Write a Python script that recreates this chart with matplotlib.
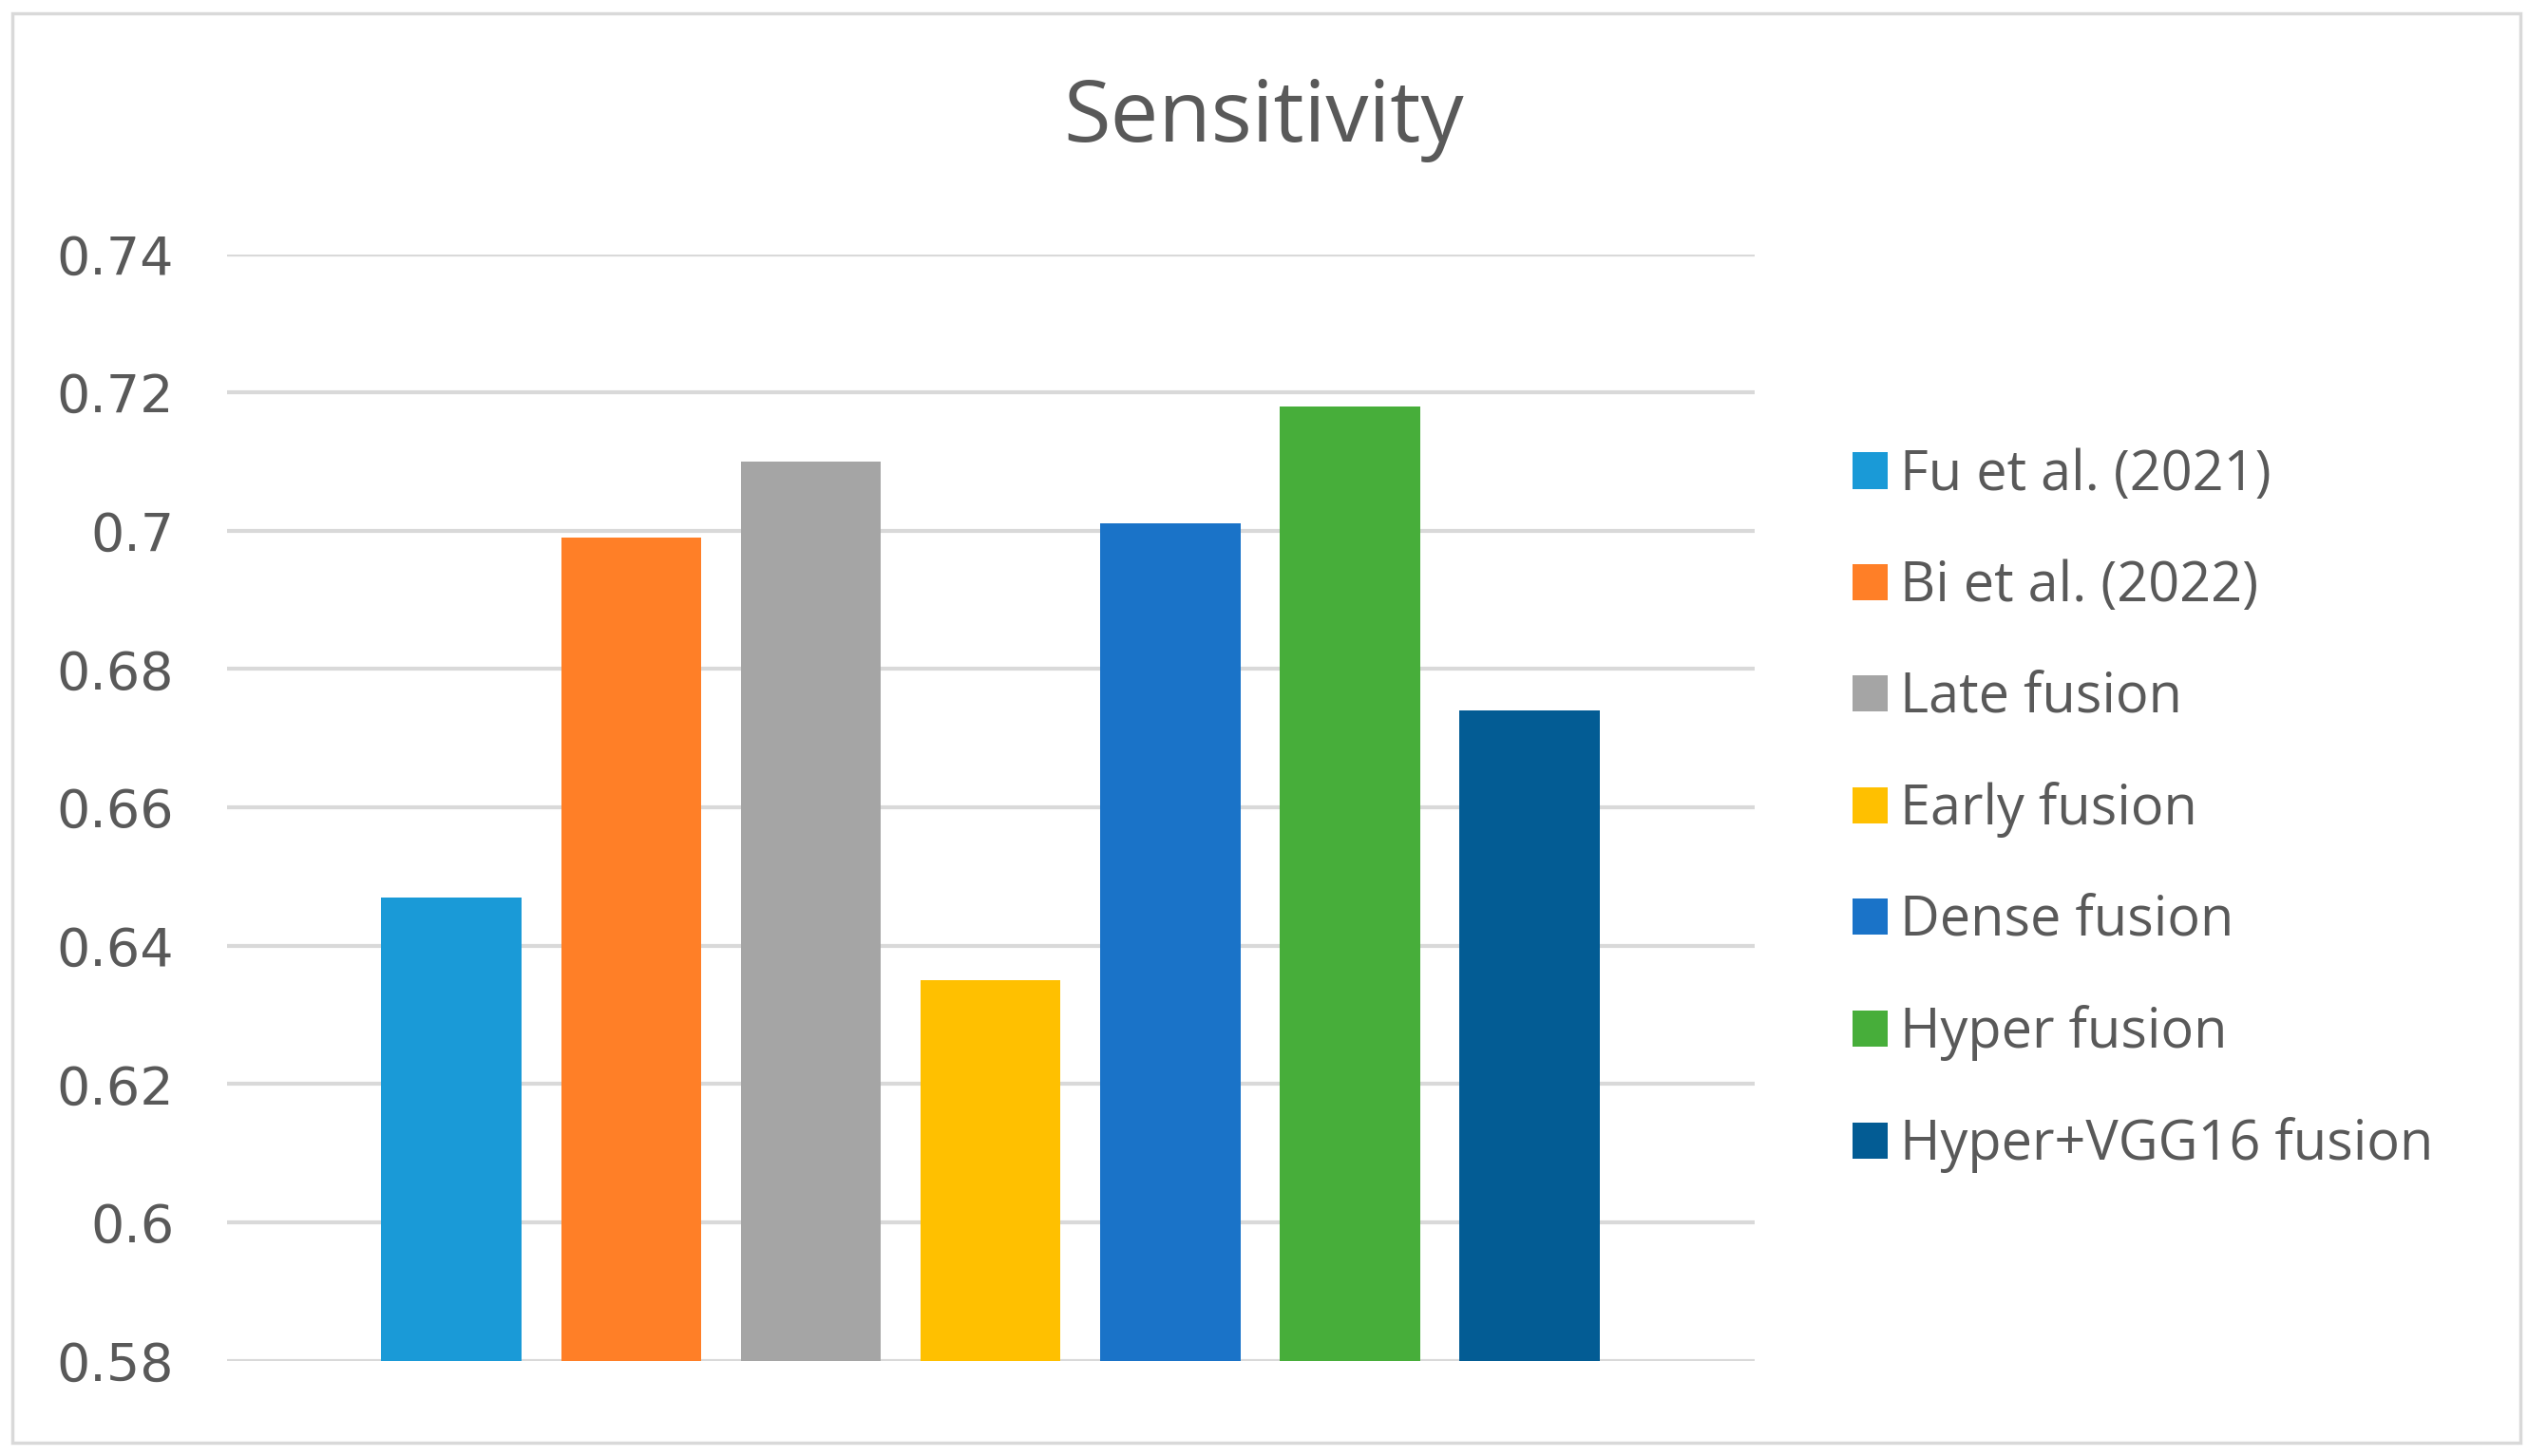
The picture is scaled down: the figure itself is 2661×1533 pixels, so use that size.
"""Sensitivity of the fusion models, drawn as an Excel style bar chart."""

import matplotlib
matplotlib.use("Agg")
import matplotlib.pyplot as plt
from matplotlib.patches import Patch, Rectangle

# Values
models = [
    "Fu et al. (2021)",
    "Bi et al. (2022)",
    "Late fusion",
    "Early fusion",
    "Dense fusion",
    "Hyper fusion",
    "Hyper+VGG16 fusion",
]
sensitivity = [0.647, 0.699, 0.710, 0.635, 0.701, 0.718, 0.674]
colours = ["#1A9AD7", "#FF7F27", "#A5A5A5", "#FFC000", "#1A73C8", "#47AE3A", "#035C94"]
y_ticks = [0.58, 0.60, 0.62, 0.64, 0.66, 0.68, 0.70, 0.72, 0.74]
y_tick_labels = ["0.58", "0.6", "0.62", "0.64", "0.66", "0.68", "0.7", "0.72", "0.74"]

text_grey = "#595959"
grid_grey = "#D9D9D9"

fig = plt.figure(figsize=(26.61, 15.33), dpi=100)
fig.patch.set_facecolor("white")

# Light frame around the whole chart, as in the Excel export
fig.patches.append(
    Rectangle((0.005, 0.009), 0.992, 0.982, transform=fig.transFigure,
              fill=False, edgecolor="#D9D9D9", linewidth=2.5)
)

ax = fig.add_axes([0.0897, 0.0655, 0.6043, 0.7600])
ax.set_facecolor("white")

positions = list(range(len(models)))
ax.bar(positions, sensitivity, width=0.78, color=colours, zorder=3)

ax.set_ylim(0.58, 0.74)
ax.set_xlim(-1.25, len(models) - 1 + 1.25)
ax.set_yticks(y_ticks)
ax.set_yticklabels(y_tick_labels)
ax.set_xticks([])

for y in y_ticks:
    ax.axhline(y, color=grid_grey, linewidth=3, zorder=1)

for spine in ax.spines.values():
    spine.set_visible(False)
ax.tick_params(axis="y", length=0, pad=40, labelsize=40, labelcolor=text_grey)

fig.text(0.5, 0.918, "Sensitivity", ha="center", va="center",
         fontsize=65, color=text_grey, family=["Open Sans", "DejaVu Sans"])

handles = [Patch(facecolor=c, edgecolor="none") for c in colours]
leg = fig.legend(
    handles, models,
    loc="center left", bbox_to_anchor=(0.7135, 0.4435),
    frameon=False,
    handlelength=0.64, handleheight=0.64, handletextpad=0.22,
    labelspacing=1.02,
    prop={"family": ["Open Sans", "DejaVu Sans"], "size": 41.5},
)
for t in leg.get_texts():
    t.set_color(text_grey)

fig.savefig("out.png", dpi=100, facecolor="white")
